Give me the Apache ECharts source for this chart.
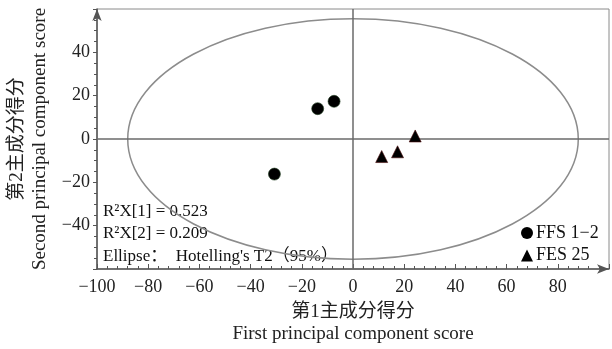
<!DOCTYPE html>
<html><head><meta charset="utf-8">
<script src="https://cdn.jsdelivr.net/npm/echarts@6/dist/echarts.min.js"></script>
<style>html,body{margin:0;padding:0;background:#fff}#c{width:612px;height:349px}</style>
</head><body><div id="c"></div>
<script>
// ---- data ----
const xMin = -100, xMax = 100, xStep = 20;
const yMin = -60, yMax = 60, yStep = 20;
const seriesNames = ['FFS 1\u22122', 'FES 25'];
const ffsPoints = [[-30.7, -16.2], [-13.8, 14.0], [-7.4, 17.4]];
const fesPoints = [[11.2, -8.1], [17.4, -5.9], [24.3, 1.4]];
const ellipseCenter = [0, 0];
const ellipseRadii = [88, 55.5];
const annotationLines = ['R\u00B2X[1] = 0.523', 'R\u00B2X[2] = 0.209', 'Ellipse\uFF1A  Hotelling\'s T2\uFF0895%\uFF09'];
const xAxisTitle = ['\u7B2C1\u4E3B\u6210\u5206\u5F97\u5206', 'First principal component score'];
const yAxisTitle = ['\u7B2C2\u4E3B\u6210\u5206\u5F97\u5206', 'Second principal component score'];

const serif = "'Liberation Serif','Times New Roman','Noto Sans CJK SC',serif";
const axisColor = '#555';
const minus = v => String(v).replace('-', '\u2212');

const chart = echarts.init(document.getElementById('c'), null, {renderer: 'canvas'});
chart.setOption({
  animation: false,
  backgroundColor: '#fff',
  grid: {left: 93, right: 3, top: 9, bottom: 80, show: true, borderColor: '#8a8a8a', borderWidth: 1},
  xAxis: {
    type: 'value', min: xMin, max: xMax, interval: xStep,
    name: '{a|' + xAxisTitle[0] + '}\n{b|' + xAxisTitle[1] + '}',
    nameLocation: 'middle', nameGap: 32,
    nameTextStyle: {rich: {
      a: {fontSize: 19, lineHeight: 22, fontFamily: serif, color: '#222'},
      b: {fontSize: 19, lineHeight: 22, fontFamily: serif, color: '#222'}
    }},
    axisLine: {show: true, onZero: false, symbol: ['none', 'arrow'], symbolSize: [7, 12], lineStyle: {color: axisColor, width: 1.5}},
    axisTick: {show: true, inside: true, length: 5, lineStyle: {color: axisColor}},
    minorTick: {show: true, splitNumber: 5, length: 3, lineStyle: {color: axisColor}},
    splitLine: {show: false},
    axisLabel: {formatter: minus, fontSize: 18, fontFamily: serif, color: '#222', margin: 9, showMaxLabel: false}
  },
  yAxis: {
    type: 'value', min: yMin, max: yMax, interval: yStep,
    name: '{a|' + yAxisTitle[0] + '}\n{b|' + yAxisTitle[1] + '}',
    nameLocation: 'middle', nameGap: 45,
    nameTextStyle: {rich: {
      a: {fontSize: 19, lineHeight: 23, fontFamily: serif, color: '#222'},
      b: {fontSize: 19, lineHeight: 23, fontFamily: serif, color: '#222'}
    }},
    axisLine: {show: true, onZero: false, symbol: ['none', 'arrow'], symbolSize: [7, 12], lineStyle: {color: axisColor, width: 1.5}},
    axisTick: {show: true, inside: false, length: 4, lineStyle: {color: axisColor}},
    minorTick: {show: true, splitNumber: 4, length: 3, lineStyle: {color: axisColor}},
    splitLine: {show: false},
    axisLabel: {formatter: minus, fontSize: 18, fontFamily: serif, color: '#222', margin: 7, showMinLabel: false, showMaxLabel: false}
  },
  legend: {
    orient: 'vertical', left: 521, top: 224,
    itemWidth: 12, itemHeight: 12, itemGap: 4.5, padding: 0,
    data: seriesNames,
    itemStyle: {borderWidth: 0, color: '#000'},
    textStyle: {fontSize: 18, lineHeight: 18, fontFamily: serif, color: '#111', padding: [0, 0, 0, -2]}
  },
  graphic: annotationLines.map((t, i) => ({
    type: 'text', left: 103, top: 203 + i * 22.5, silent: true,
    style: {text: t, font: '17px ' + serif, fill: '#111'}
  })),
  series: [
    {
      type: 'custom', name: 'ellipse', silent: true, z: 1, clip: false,
      data: [[ellipseCenter[0], ellipseCenter[1], ellipseRadii[0], ellipseRadii[1]]],
      renderItem: function (params, api) {
        const c = api.coord([api.value(0), api.value(1)]);
        const s = api.size([api.value(2), api.value(3)]);
        return {type: 'ellipse', shape: {cx: c[0], cy: c[1], rx: s[0], ry: s[1]},
          style: {fill: 'none', stroke: '#8c8c8c', lineWidth: 1.5}};
      }
    },
    {
      type: 'scatter', name: seriesNames[0], data: ffsPoints, z: 5,
      symbol: 'circle', symbolSize: 12,
      itemStyle: {color: '#000', borderColor: '#1d3a1d', borderWidth: 0.6, opacity: 1},
      markLine: {
        silent: true, symbol: ['none', 'none'], label: {show: false},
        lineStyle: {color: '#6a6a6a', width: 1.5, type: 'solid'},
        data: [{xAxis: 0}, {yAxis: 0}]
      }
    },
    {
      type: 'scatter', name: seriesNames[1], data: fesPoints, z: 5,
      symbol: 'triangle', symbolSize: 12,
      itemStyle: {color: '#000', borderColor: '#4a0a0a', borderWidth: 0.6, opacity: 1}
    }
  ]
});
</script>
</body></html>
